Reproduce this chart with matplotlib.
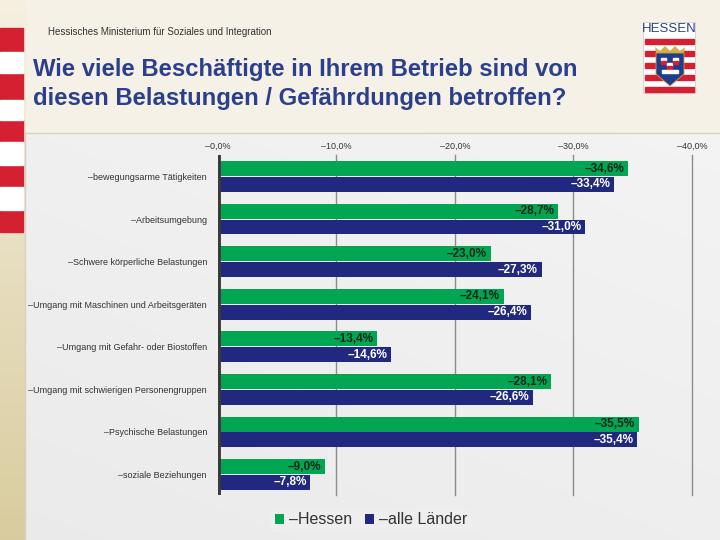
import matplotlib
matplotlib.use("Agg")
import matplotlib.pyplot as plt
import numpy as np
from matplotlib.patches import Rectangle, Polygon

plt.rcParams['font.family'] = ['Liberation Sans', 'DejaVu Sans']

categories = [
    "–bewegungsarme Tätigkeiten",
    "–Arbeitsumgebung",
    "–Schwere körperliche Belastungen",
    "–Umgang mit Maschinen und Arbeitsgeräten",
    "–Umgang mit Gefahr- oder Biostoffen",
    "–Umgang mit schwierigen Personengruppen",
    "–Psychische Belastungen",
    "–soziale Beziehungen",
]
hessen = [34.6, 28.7, 23.0, 24.1, 13.4, 28.1, 35.5, 9.0]
alle_laender = [33.4, 31.0, 27.3, 26.4, 14.6, 26.6, 35.4, 7.8]
series_names = ["–Hessen", "–alle Länder"]
xticks = [0, 10, 20, 30, 40]
xtick_labels = ["–0,0%", "–10,0%", "–20,0%", "–30,0%", "–40,0%"]

GREEN = "#00a651"
BLUE = "#21287f"
TITLE = "#2b3f8c"
RED = "#d42030"

fig = plt.figure(figsize=(7.2, 5.4), dpi=100)

# background decoration axes in pixel coords
bg = fig.add_axes([0, 0, 1, 1])
bg.set_xlim(0, 720)
bg.set_ylim(540, 0)
bg.axis("off")
bg.add_patch(Rectangle((0, 0), 720, 540, color="#f6f1e6", zorder=0))
# left strip gradient
strip = np.zeros((256, 1, 3))
top_c = np.array([0.96, 0.94, 0.88])
bot_c = np.array([0.85, 0.80, 0.62])
for i in range(256):
    t = i / 255
    strip[i, 0] = top_c * (1 - t) + bot_c * t
bg.imshow(strip, extent=(0, 26, 540, 0), aspect="auto", zorder=1)
for y0, y1 in [(28, 52), (73, 100), (120, 142), (165, 187), (210, 232)]:
    bg.add_patch(Rectangle((0, y0), 23, y1 - y0, color=RED, zorder=2))
for y0, y1 in [(52, 73), (100, 120), (142, 165), (187, 210)]:
    bg.add_patch(Rectangle((0, y0), 23, y1 - y0, color="#ffffff", zorder=2))
# chart panel gradient
nx, ny = 200, 200
xx, yy = np.meshgrid(np.linspace(0, 1, nx), np.linspace(0, 1, ny))
val = 0.955 - 0.035 * (yy * 0.6 + (1 - xx) * 0.4)
panel = np.dstack([val, val, val])
bg.imshow(panel, extent=(25, 720, 540, 133), aspect="auto", zorder=1)
bg.plot([25, 720], [133, 133], color="#d8d0bc", lw=1, zorder=3)
bg.plot([25, 25], [133, 540], color="#d8d0bc", lw=1, zorder=3)

# header texts
bg.text(48, 32, "Hessisches Ministerium für Soziales und Integration", fontsize=7,
        color="#333333", va="center", ha="left", zorder=5)
bg.text(33, 84, "Wie viele Beschäftigte in Ihrem Betrieb sind von\ndiesen Belastungen / Gefährdungen betroffen?",
        fontsize=17.2, fontweight="bold", color=TITLE, va="center", ha="left",
        linespacing=1.3, zorder=5)

# Hessen logo
bg.add_patch(Rectangle((643, 22), 52, 71, facecolor="white", edgecolor="#d0d0d0", lw=0.6, zorder=4))
bg.text(669, 29, "HESSEN", fontsize=9.5, color="#2b3f8c", ha="center", va="center", zorder=6)
for y0, y1 in [(39, 43.5), (51, 55.5), (63, 67.5), (75, 79.5), (87, 92)]:
    bg.add_patch(Rectangle((645, y0), 49, y1 - y0, color=RED, zorder=5))
bg.add_patch(Polygon([[655, 47], [660, 51], [665, 46], [670, 51], [675, 46], [680, 51],
                      [685, 47], [684, 53], [656, 53]], closed=True,
                     facecolor="#d4b04a", edgecolor="none", zorder=6))
shield = Polygon([[656, 53], [684, 53], [684, 74], [670, 86], [656, 74]],
                 closed=True, facecolor="#1f3d8f", edgecolor="#c9a23a", lw=0.6, zorder=6)
bg.add_patch(shield)
for k in range(3):
    bg.add_patch(Rectangle((661 + k * 6, 58 + (k % 2) * 5), 5, 3, color="#ffffff", zorder=7))
    bg.add_patch(Rectangle((661 + k * 6, 61 + (k % 2) * 5), 5, 3, color=RED, zorder=7))
bg.add_patch(Rectangle((662, 70), 16, 3, color="#ffffff", zorder=7))

# main chart axes
x0, x1 = 218, 692
ytop, ybot = 155, 495
ax = fig.add_axes([x0 / 720, 1 - ybot / 540, (x1 - x0) / 720, (ybot - ytop) / 540])
ax.patch.set_alpha(0)
n = len(categories)
y = np.arange(n)
h = 0.35
off = 0.185
ax.barh(y - off, hessen, height=h, color=GREEN, zorder=3, label=series_names[0])
ax.barh(y + off, alle_laender, height=h, color=BLUE, zorder=3, label=series_names[1])
ax.set_xlim(0, 40)
ax.set_ylim(7.48, -0.505)
for xv in xticks[1:]:
    ax.axvline(xv, color="#8c8c8c", lw=1, zorder=1, clip_on=False)
ax.axvline(0, color="#3a3a3a", lw=3.5, zorder=4)
for s in ax.spines.values():
    s.set_visible(False)
ax.xaxis.tick_top()
ax.set_xticks(xticks)
ax.set_xticklabels(xtick_labels, fontsize=6.5, color="#333333")
ax.tick_params(axis="x", length=0, pad=3)
ax.set_yticks(y)
ax.set_yticklabels(categories, fontsize=6.5, color="#333333")
ax.tick_params(axis="y", length=0, pad=8)

def fmt(v):
    return "–" + f"{v:.1f}".replace(".", ",") + "%"

for i in range(n):
    ax.text(hessen[i] - 0.3, i - off, fmt(hessen[i]), ha="right", va="center",
            fontsize=8.5, fontweight="bold", color="#10261a", zorder=5)
    ax.text(alle_laender[i] - 0.3, i + off, fmt(alle_laender[i]), ha="right", va="center",
            fontsize=8.5, fontweight="bold", color="white", zorder=5)

leg = fig.legend(loc="center", bbox_to_anchor=(371 / 720, 1 - 520 / 540), ncol=2,
                 fontsize=11.5, frameon=True, handlelength=0.6, handleheight=0.6,
                 handletextpad=0.3, columnspacing=0.8, borderpad=0.3)
leg.get_frame().set_facecolor("#efefef")
leg.get_frame().set_edgecolor("none")
for t in leg.get_texts():
    t.set_color("#333333")

fig.savefig("out.png", dpi=100)
